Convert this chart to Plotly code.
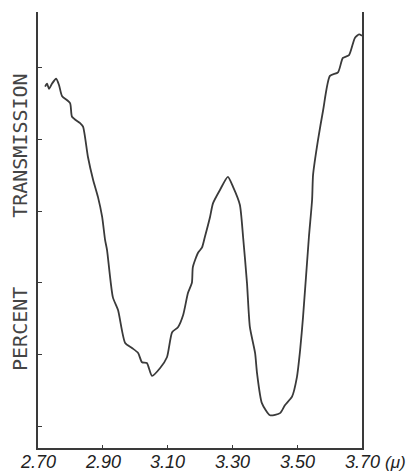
import plotly.graph_objects as go

# wavelength (micron) and percent transmission
wavelength = [2.722, 2.728, 2.734, 2.743, 2.756, 2.765, 2.774, 2.799, 2.805, 2.830, 2.839,
              2.854, 2.870, 2.885, 2.898, 2.907, 2.913, 2.931, 2.947, 2.969, 2.990,
              3.009, 3.021, 3.036, 3.052, 3.077, 3.098, 3.114, 3.132, 3.148, 3.163,
              3.175, 3.178, 3.194, 3.206, 3.215, 3.231, 3.240, 3.262, 3.286, 3.302,
              3.323, 3.333, 3.345, 3.354, 3.370, 3.376, 3.391, 3.416, 3.447, 3.462,
              3.484, 3.499, 3.509, 3.518, 3.536, 3.546, 3.549, 3.564, 3.580, 3.601,
              3.626, 3.641, 3.660, 3.678, 3.691, 3.700]
transmission = [57.4, 57.8, 57.1, 57.8, 58.5, 57.6, 56.1, 55.1, 53.2, 52.3, 51.8,
                47.6, 44.4, 42.0, 39.2, 36.0, 34.6, 28.0, 26.2, 21.6, 20.9,
                20.2, 18.9, 18.8, 17.0, 18.1, 19.6, 23.1, 23.8, 25.5, 28.6,
                30.0, 32.2, 34.2, 34.9, 36.4, 39.2, 41.1, 43.0, 44.8, 43.4,
                40.9, 36.4, 30.0, 23.8, 20.2, 17.4, 13.2, 11.5, 11.8, 12.9,
                14.1, 16.8, 20.6, 25.2, 36.3, 41.6, 45.1, 49.9, 54.1, 58.9,
                59.4, 61.4, 61.8, 64.2, 64.7, 64.5]

x_ticks = [2.70, 2.90, 3.10, 3.30, 3.50, 3.70]
x_tick_labels = ["2.70", "2.90", "3.10", "3.30", "3.50", "3.70"]
y_ticks = [10, 20, 30, 40, 50, 60]

ink = "#3a3a3a"

fig = go.Figure()
fig.add_trace(go.Scatter(x=wavelength, y=transmission, mode="lines",
                         line=dict(color=ink, width=1.8, shape="spline", smoothing=0.6),
                         hoverinfo="skip", showlegend=False))

fig.update_layout(
    width=415, height=472,
    margin=dict(l=38, r=53, t=12, b=24, autoexpand=False),
    paper_bgcolor="white", plot_bgcolor="white",
    showlegend=False,
    xaxis=dict(range=[2.70, 3.70], showgrid=False, zeroline=False, automargin=False,
               showline=True, linecolor=ink, linewidth=2, mirror=False,
               tickvals=x_ticks, showticklabels=False, ticks="inside",
               ticklen=3, tickcolor=ink),
    yaxis=dict(range=[6.93, 67.82], showgrid=False, zeroline=False, automargin=False,
               showline=True, linecolor=ink, linewidth=2, mirror=True,
               tickvals=y_ticks, showticklabels=False, ticks="inside",
               ticklen=4, tickcolor=ink),
)

tick_font = dict(family="Liberation Sans", size=18, color="#222")
for val, lab in zip(x_ticks, x_tick_labels):
    fig.add_annotation(text="<i>" + lab + "</i>", xref="x", yref="paper", x=val, y=0,
                       xanchor="center", yanchor="middle", yshift=-14,
                       showarrow=False, font=tick_font)

fig.add_annotation(text="<i>(\u03bc)</i>", xref="paper", yref="paper", x=1.0, y=0,
                   xanchor="left", yanchor="middle",
                   xshift=21, yshift=-14, showarrow=False,
                   font=dict(family="Liberation Sans", size=17, color="#222"))
label_font = dict(family="DejaVu Sans Mono", size=20, color="#444")
fig.add_annotation(text="PERCENT", xref="paper", yref="paper", x=0, y=0.273,
                   xanchor="center", yanchor="middle",
                   xshift=-18, textangle=-90, showarrow=False, font=label_font)
fig.add_annotation(text="TRANSMISSION", xref="paper", yref="paper", x=0, y=0.693,
                   xanchor="center", yanchor="middle",
                   xshift=-18, textangle=-90, showarrow=False, font=label_font)

fig.write_html("out.html")
